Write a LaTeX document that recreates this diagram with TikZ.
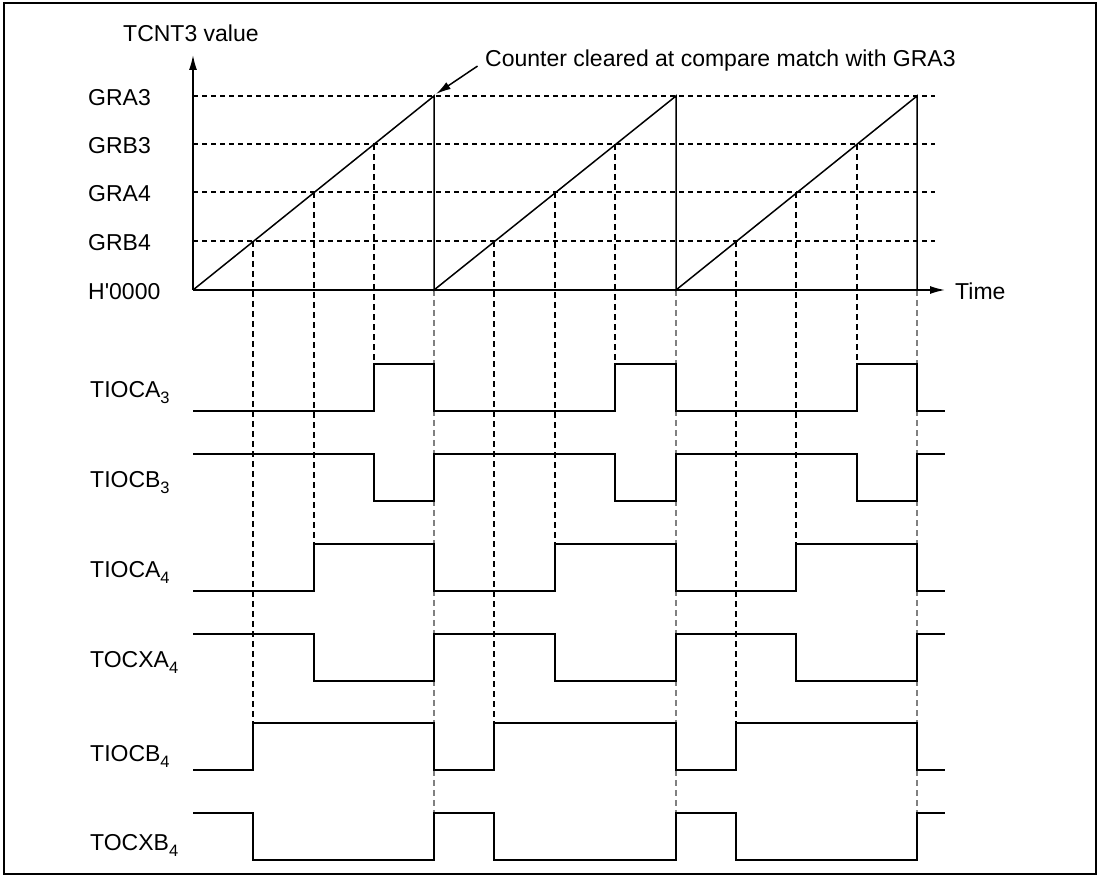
\documentclass[tikz,border=0pt]{standalone}
\usepackage{fontspec}
\setmainfont{Liberation Sans}
\usetikzlibrary{arrows.meta}
\newcommand\sbs[1]{\raisebox{-6pt}{\fontsize{16.5}{18}\selectfont #1}}
\begin{document}
\begin{tikzpicture}[x=1pt,y=-1pt,
  font=\fontsize{23}{27}\selectfont,
  lbl/.style={anchor=base west,inner sep=0pt},
  sig/.style={line width=1.5pt},
  grid/.style={line width=1.1pt,dash pattern=on 5pt off 4pt},
  vdash/.style={line width=1.1pt,dash pattern=on 6pt off 4pt},
  pdash/.style={line width=1.3pt,gray,dash pattern=on 6pt off 4pt},
  arr/.style={-{Latex[length=15pt,width=8pt]},line width=1.5pt}]
\useasboundingbox (0,0) rectangle (1100,877);
\draw[line width=1.6pt] (4,3) rectangle (1096,874);
% grid lines
\foreach \y in {96,144,192,241} \draw[grid] (193,\y) -- (935,\y);
% vertical dashes
\foreach \x in {253,494,736} \draw[vdash] (\x,241) -- (\x,723);
\foreach \x in {314,555,796} \draw[vdash] (\x,192) -- (\x,544);
\foreach \x in {374,615,857} \draw[vdash] (\x,144) -- (\x,364);
\foreach \x in {434,676,917} \draw[pdash] (\x,290) -- (\x,813);
% axes
\coordinate (O) at (193,290);
\coordinate (ytip) at (193,55);
\coordinate (xtip) at (945,290);
\draw[arr] (O) -- (ytip);
\draw[arr] (O) -- (xtip);
% ramps
\draw[sig] (193,290) -- (434,96) -- (434,290) -- (676,96) -- (676,290) -- (917,96) -- (917,290);
% axis labels
\node[lbl] (ylab) at (123,42) {TCNT3 value};
\node[lbl] (tlab) at (955,299) {Time};
\node[lbl] (gra3) at (88,106) {GRA3};
\node[lbl] (grb3) at (88,154) {GRB3};
\node[lbl] (gra4) at (88,202) {GRA4};
\node[lbl] (grb4) at (88,251) {GRB4};
\node[lbl] (h0) at (88,300) {H\textquotesingle 0000};
% annotation
\node[lbl] (cc) at (485,67) {Counter cleared at compare match with GRA3};
\coordinate (peak) at (436,94);
\draw[arr,shorten <=9pt] (cc.west) -- (peak);
% waveforms
\draw[sig] (193,411) -| (374,364) -| (434,411) -| (615,364) -| (676,411) -| (857,364) -| (917,411) -- (945,411);
\draw[sig] (193,454) -| (374,501) -| (434,454) -| (615,501) -| (676,454) -| (857,501) -| (917,454) -- (945,454);
\draw[sig] (193,591) -| (314,544) -| (434,591) -| (555,544) -| (676,591) -| (796,544) -| (917,591) -- (945,591);
\draw[sig] (193,634) -| (314,681) -| (434,634) -| (555,681) -| (676,634) -| (796,681) -| (917,634) -- (945,634);
\draw[sig] (193,770) -| (253,723) -| (434,770) -| (494,723) -| (676,770) -| (736,723) -| (917,770) -- (945,770);
\draw[sig] (193,813) -| (253,860) -| (434,813) -| (494,860) -| (676,813) -| (736,860) -| (917,813) -- (945,813);
% signal labels
\node[lbl] (s1) at (90,397) {TIOCA\sbs{3}};
\node[lbl] (s2) at (90,487) {TIOCB\sbs{3}};
\node[lbl] (s3) at (90,577) {TIOCA\sbs{4}};
\node[lbl] (s4) at (90,667) {TOCXA\sbs{4}};
\node[lbl] (s5) at (90,761) {TIOCB\sbs{4}};
\node[lbl] (s6) at (90,850) {TOCXB\sbs{4}};
\end{tikzpicture}
\end{document}
